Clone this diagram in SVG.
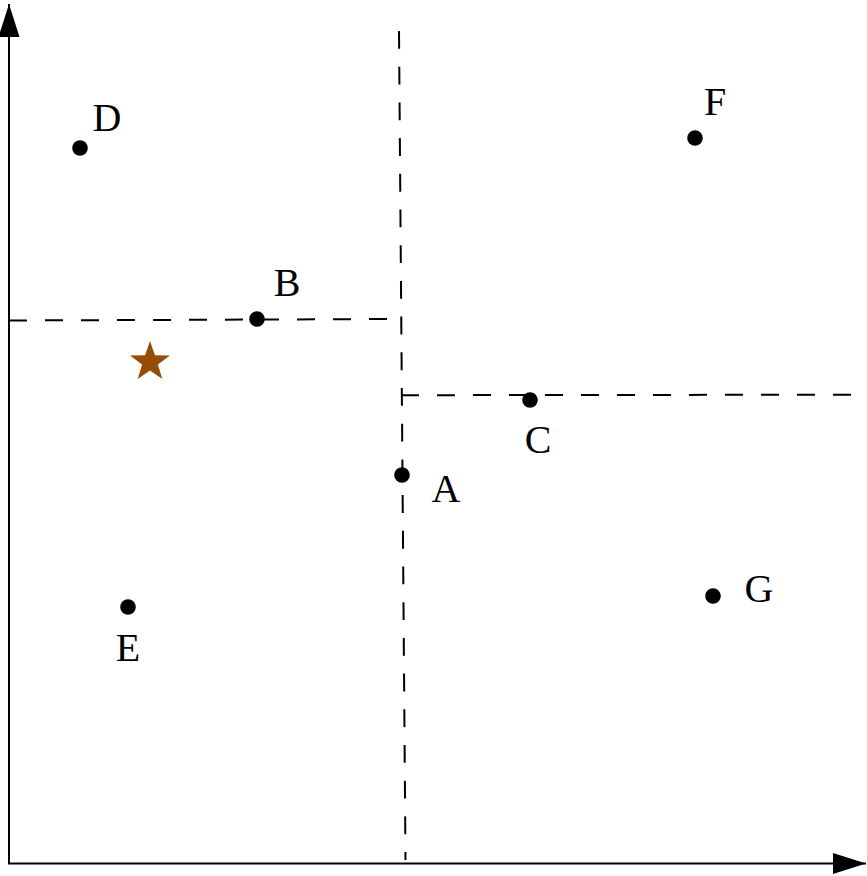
<svg xmlns="http://www.w3.org/2000/svg" width="867" height="876" viewBox="0 0 867 876">
<style>
.axis{stroke:#000;stroke-width:2;fill:none}
.dash{stroke:#000;stroke-width:2;fill:none;stroke-dasharray:18 18}
.pt{fill:#000}
.lbl{font-family:"Liberation Serif",serif;font-size:40px;fill:#000;text-anchor:middle;dominant-baseline:central}
</style>
<defs>
<marker id="arr" markerUnits="userSpaceOnUse" markerWidth="34" markerHeight="22" refX="33" refY="10.5" orient="auto">
<path d="M0,0 L33,10.5 L0,21 z" fill="#000"/>
</marker>
</defs>
<g id="connectors">
<line class="axis" x1="9" y1="864" x2="9" y2="4" marker-end="url(#arr)"/>
<line class="axis" x1="8" y1="863.5" x2="866" y2="863.5" marker-end="url(#arr)"/>
<line class="dash" x1="399" y1="31" x2="405.5" y2="860" style="stroke-dasharray:17.85 17.85"/>
<line class="dash" x1="9" y1="320.5" x2="399" y2="319"/>
<line class="dash" x1="401" y1="395.2" x2="851" y2="394.7"/>
</g>
<g id="D"><circle class="pt" cx="80" cy="148" r="7.8"/><text class="lbl" x="107" y="117">D</text></g>
<g id="F"><circle class="pt" cx="695" cy="138" r="7.8"/><text class="lbl" x="715" y="101">F</text></g>
<g id="B"><circle class="pt" cx="257" cy="319" r="7.8"/><text class="lbl" x="287" y="282">B</text></g>
<g id="C"><circle class="pt" cx="530" cy="400" r="7.8"/><text class="lbl" x="538" y="439">C</text></g>
<g id="A"><circle class="pt" cx="402" cy="475" r="7.8"/><text class="lbl" x="446" y="488">A</text></g>
<g id="G"><circle class="pt" cx="713" cy="596" r="7.8"/><text class="lbl" x="759" y="588">G</text></g>
<g id="E"><circle class="pt" cx="128" cy="607" r="7.8"/><text class="lbl" x="128" y="647">E</text></g>
<g id="star"><polygon fill="#964B06" points="150,341 154.9,355.2 170,355.5 157.9,364.6 162.3,378.9 150,370.4 137.7,378.9 142.1,364.6 130,355.5 145.1,355.2"/></g>
</svg>
